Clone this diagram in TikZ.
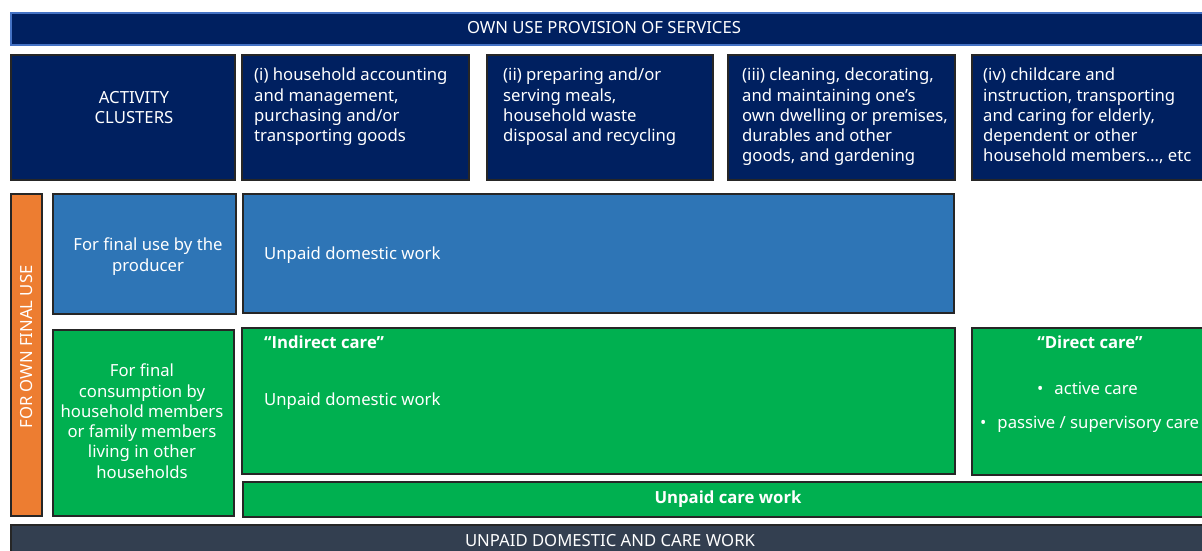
\documentclass[tikz,border=0pt]{standalone}
\usepackage{fontspec}
\setmainfont{Noto Sans}
\newfontfamily\bfnt{Open Sans}
\definecolor{navy}{RGB}{0,32,96}
\definecolor{topborder}{RGB}{68,114,196}
\definecolor{midblue}{RGB}{46,117,182}
\definecolor{grn}{RGB}{0,176,80}
\definecolor{orng}{RGB}{237,125,49}
\definecolor{slate}{RGB}{51,63,80}
\newcommand\fl{\rule{0pt}{15pt}}
\newcommand\rbox[6]{\node[#6, minimum width={#4-#2}, minimum height={#5-#3}] (#1) at (#2,#3) {};}
\tikzset{
  box/.style={draw=black!85, line width=1.6pt, inner sep=0pt, anchor=north west},
  navybox/.style={box, fill=navy},
  topbar/.style={box, draw=topborder, fill=navy},
  bluebox/.style={box, fill=midblue},
  greenbox/.style={box, fill=grn},
  orangebox/.style={box, fill=orng},
  slatebox/.style={box, fill=slate},
  txt/.style={text=white, font=\fontsize{16.7}{20.3}\selectfont, inner sep=0pt},
  btxt/.style={txt, font=\fontsize{16.7}{20.3}\selectfont\bfnt\bfseries},
  ltxt/.style={txt, align=left, anchor=north west},
  ctxt/.style={txt, align=center, anchor=north},
}
\begin{document}
\begin{tikzpicture}[x=1pt,y=-1pt]
\useasboundingbox (0,0) rectangle (1202,551);
\clip (0,0) rectangle (1202,551);
% boxes
\rbox{top}{10}{12}{1215}{44}{topbar}
\rbox{clus}{10}{54}{234}{179}{navybox}
\rbox{ci}{241}{54}{468}{179}{navybox}
\rbox{cii}{486}{54}{712}{179}{navybox}
\rbox{ciii}{727}{54}{954}{179}{navybox}
\rbox{civ}{971}{54}{1215}{179}{navybox}
\rbox{orange}{10}{193}{41}{515}{orangebox}
\rbox{prod}{52}{193}{235}{313}{bluebox}
\rbox{udw}{242}{193}{953}{312}{bluebox}
\rbox{cons}{52}{329}{233}{515}{greenbox}
\rbox{ind}{241}{327}{954}{473}{greenbox}
\rbox{dir}{971}{327}{1215}{474}{greenbox}
\rbox{ucw}{242}{481}{1215}{516}{greenbox}
\rbox{bottom}{10}{524}{1215}{565}{slatebox}
% texts
\node[txt, anchor=base] (toptxt) at (604,33.5) {OWN USE PROVISION OF SERVICES};
\node[ctxt] (clustxt) at (134,88) {\fl ACTIVITY\\CLUSTERS};
\node[ltxt] (citxt) at (254,65.5) {\fl(i) household accounting\\and management,\\purchasing and/or\\transporting goods};
\node[ltxt] (ciitxt) at (503,65.5) {\fl(ii) preparing and/or\\serving meals,\\household waste\\disposal and recycling};
\node[ltxt] (ciiitxt) at (742,65.5) {\fl(iii) cleaning, decorating,\\and maintaining one’s\\own dwelling or premises,\\durables and other\\goods, and gardening};
\node[ltxt] (civtxt) at (983,65.5) {\fl(iv) childcare and\\instruction, transporting\\and caring for elderly,\\dependent or other\\household members…, etc};
\node[txt, rotate=90, anchor=center] (orangetxt) at (27,347) {FOR OWN FINAL USE};
\node[ctxt] (prodtxt) at (148,235.5) {\fl For final use by the\\producer};
\node[txt, anchor=base west] (udwtxt) at (264,259.5) {Unpaid domestic work};
\node[ctxt] (constxt) at (142,361.5) {\fl For final\\consumption by\\household members\\or family members\\living in other\\households};
\node[btxt, anchor=base west] (indtitle) at (264,348.5) {“Indirect care”};
\node[txt, anchor=base west] (indtxt) at (264,405.5) {Unpaid domestic work};
\node[btxt, anchor=base] (dirtitle) at (1090,348.5) {“Direct care”};
\node[txt, anchor=base west] (dira) at (1037,394.5) {•\hspace{11pt}active care};
\node[txt, anchor=base west] (dirb) at (980,428.5) {•\hspace{11pt}passive / supervisory care};
\node[btxt, anchor=base] (ucwtxt) at (728,503.5) {Unpaid care work};
\node[txt, anchor=base] (bottomtxt) at (610,546.5) {UNPAID DOMESTIC AND CARE WORK};
\end{tikzpicture}
\end{document}
